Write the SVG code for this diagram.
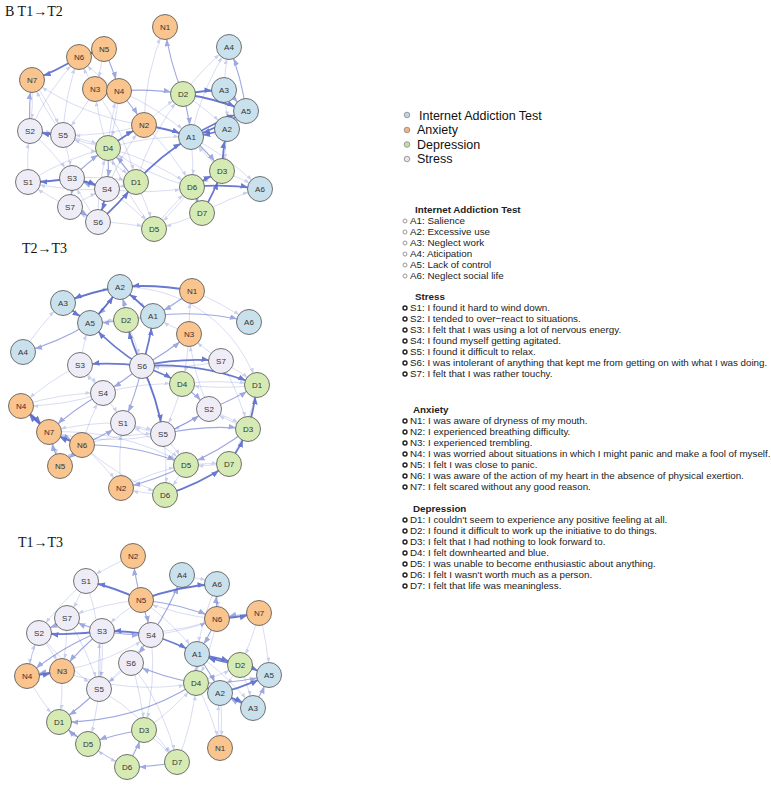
<svg xmlns="http://www.w3.org/2000/svg" width="771" height="800" viewBox="0 0 771 800">
<style>
.bg{fill:#fff}
.ttl{font-family:"Liberation Serif","Times New Roman",serif;font-size:14px;fill:#111}
.e{fill:none;stroke:#4f62c9;marker-end:url(#ah)}
.e1{stroke-width:1.8;opacity:.85}
.e2{stroke-width:1.1;opacity:.55}
.e3{stroke-width:.7;opacity:.3;marker-end:url(#ahs)}
.n circle{stroke:#505050;stroke-width:.8}
.nA circle{fill:#c9e1ec}
.nN circle{fill:#f9c48d}
.nD circle{fill:#d6ebb4}
.nS circle{fill:#eeecf6}
.n text{font-family:"Liberation Sans",Arial,sans-serif;font-size:8px;fill:#333;text-anchor:middle}
.lg{font-family:"Liberation Sans",Arial,sans-serif;font-size:12.5px;fill:#111}
.tx{font-family:"Liberation Sans",Arial,sans-serif;font-size:9.8px;fill:#222}
.hd{font-family:"Liberation Sans",Arial,sans-serif;font-size:9.8px;font-weight:bold;fill:#222}
.bl{fill:#fff;stroke:#999;stroke-width:1}
.bd{fill:#fff;stroke:#222;stroke-width:1.4}
.ld{stroke:#888;stroke-width:.8}
</style>
<defs>
<marker id="ah" markerUnits="userSpaceOnUse" markerWidth="7" markerHeight="5.6" refX="19.5" refY="2.8" orient="auto"><path d="M0,0 L7,2.8 L0,5.6 z" fill="#4f62c9"/></marker>
<marker id="ahs" markerUnits="userSpaceOnUse" markerWidth="5" markerHeight="4" refX="17.5" refY="2" orient="auto"><path d="M0,0 L5,2 L0,4 z" fill="#4f62c9"/></marker>
</defs>
<rect class="bg" x="0" y="0" width="771" height="800"/>
<text class="ttl" x="5" y="16">B T1→T2</text>
<text class="ttl" x="22" y="253">T2→T3</text>
<text class="ttl" x="18" y="547">T1→T3</text>

<g id="connectors">
<g id="edges-t1t2">
<path class="e e3" d="M144 125 A250 250 0 0 1 165 27"/>
<path class="e e3" d="M224 90 A250 250 0 0 1 229 47"/>
<path class="e e3" d="M191 137 A250 250 0 0 1 229 47"/>
<path class="e e3" d="M183 94 A250 250 0 0 1 229 47"/>
<path class="e e3" d="M63 135 A250 250 0 0 1 79 57"/>
<path class="e e3" d="M30 131 A250 250 0 0 1 63 135"/>
<path class="e e3" d="M63 135 A250 250 0 0 1 32 80"/>
<path class="e e3" d="M108 148 A250 250 0 0 1 95 89"/>
<path class="e e3" d="M28 182 A250 250 0 0 1 30 131"/>
<path class="e e3" d="M70 207 A250 250 0 0 1 28 182"/>
<path class="e e3" d="M98 222 A250 250 0 0 1 72 178"/>
<path class="e e3" d="M107 189 A250 250 0 0 1 28 182"/>
<path class="e e3" d="M108 148 A250 250 0 0 1 63 135"/>
<path class="e e3" d="M136 182 A250 250 0 0 1 107 189"/>
<path class="e e3" d="M136 182 A250 250 0 0 1 154 229"/>
<path class="e e3" d="M154 229 A250 250 0 0 1 192 187"/>
<path class="e e3" d="M108 148 A250 250 0 0 1 192 187"/>
<path class="e e3" d="M144 125 A250 250 0 0 1 192 187"/>
<path class="e e3" d="M191 137 A250 250 0 0 1 192 187"/>
<path class="e e3" d="M222 171 A250 250 0 0 1 191 137"/>
<path class="e e3" d="M227 129 A250 250 0 0 1 222 171"/>
<path class="e e3" d="M222 171 A250 250 0 0 1 260 189"/>
<path class="e e3" d="M191 137 A250 250 0 0 1 260 189"/>
<path class="e e3" d="M95 89 A250 250 0 0 1 63 135"/>
<path class="e e3" d="M30 131 A250 250 0 0 1 108 148"/>
<path class="e e3" d="M32 80 A250 250 0 0 1 30 131"/>
<path class="e e3" d="M108 148 A250 250 0 0 1 119 91"/>
<path class="e e3" d="M144 125 A250 250 0 0 1 183 94"/>
<path class="e e3" d="M136 182 A250 250 0 0 1 183 94"/>
<path class="e e3" d="M107 189 A250 250 0 0 1 154 229"/>
<path class="e e3" d="M98 222 A250 250 0 0 1 154 229"/>
<path class="e e3" d="M192 187 A250 250 0 0 1 154 229"/>
<path class="e e3" d="M202 213 A250 250 0 0 1 154 229"/>
<path class="e e3" d="M119 91 A250 250 0 0 1 79 57"/>
<path class="e e3" d="M95 89 A250 250 0 0 1 79 57"/>
<path class="e e3" d="M104 49 A250 250 0 0 1 95 89"/>
<path class="e e3" d="M227 129 A250 250 0 0 1 246 111"/>
<path class="e e3" d="M246 111 A250 250 0 0 1 227 129"/>
<path class="e e3" d="M224 90 A250 250 0 0 1 227 129"/>
<path class="e e3" d="M222 171 A250 250 0 0 1 192 187"/>
<path class="e e3" d="M192 187 A250 250 0 0 1 108 148"/>
<path class="e e3" d="M108 148 A250 250 0 0 1 191 137"/>
<path class="e e3" d="M107 189 A250 250 0 0 1 144 125"/>
<path class="e e3" d="M72 178 A250 250 0 0 1 136 182"/>
<path class="e e3" d="M30 131 A250 250 0 0 1 72 178"/>
<path class="e e3" d="M63 135 A250 250 0 0 1 72 178"/>
<path class="e e3" d="M183 94 A250 250 0 0 1 227 129"/>
<path class="e e3" d="M119 91 A250 250 0 0 1 191 137"/>
<path class="e e3" d="M70 207 A250 250 0 0 1 107 189"/>
<path class="e e3" d="M98 222 A250 250 0 0 1 70 207"/>
<path class="e e3" d="M98 222 A250 250 0 0 1 108 148"/>
<path class="e e3" d="M32 80 A250 250 0 0 1 63 135"/>
<path class="e e3" d="M144 125 A250 250 0 0 1 63 135"/>
<path class="e e3" d="M28 182 A250 250 0 0 1 108 148"/>
<path class="e e3" d="M154 229 A250 250 0 0 1 108 148"/>
<path class="e e3" d="M202 213 A250 250 0 0 1 260 189"/>
<path class="e e3" d="M30 131 A250 250 0 0 1 79 57"/>
<path class="e e3" d="M144 125 A250 250 0 0 1 32 80"/>
<path class="e e3" d="M95 89 A250 250 0 0 1 136 182"/>
<path class="e e3" d="M119 91 A250 250 0 0 1 108 148"/>
<path class="e e3" d="M107 189 A250 250 0 0 0 192 187"/>
<path class="e e3" d="M63 135 A250 250 0 0 1 136 182"/>
<path class="e e2" d="M119 91 A250 250 0 0 1 183 94"/>
<path class="e e2" d="M224 90 A250 250 0 0 1 246 111"/>
<path class="e e2" d="M72 178 A250 250 0 0 1 108 148"/>
<path class="e e2" d="M108 148 A250 250 0 0 1 107 189"/>
<path class="e e2" d="M136 182 A250 250 0 0 0 108 148"/>
<path class="e e2" d="M183 94 A250 250 0 0 1 165 27"/>
<path class="e e2" d="M246 111 A250 250 0 0 0 229 47"/>
<path class="e e2" d="M30 131 A250 250 0 0 1 32 80"/>
<path class="e e2" d="M70 207 A250 250 0 0 1 98 222"/>
<path class="e e2" d="M72 178 A250 250 0 0 1 70 207"/>
<path class="e e2" d="M192 187 A250 250 0 0 1 202 213"/>
<path class="e e2" d="M202 213 A250 250 0 0 1 192 187"/>
<path class="e e2" d="M104 49 A250 250 0 0 1 119 91"/>
<path class="e e2" d="M119 91 A250 250 0 0 1 144 125"/>
<path class="e e2" d="M183 94 A250 250 0 0 1 191 137"/>
<path class="e e2" d="M107 189 A250 250 0 0 1 72 178"/>
<path class="e e2" d="M191 137 A250 250 0 0 1 222 171"/>
<path class="e e1" d="M79 57 A250 250 0 0 1 32 80"/>
<path class="e e1" d="M104 49 A250 250 0 0 1 79 57"/>
<path class="e e1" d="M79 57 A250 250 0 0 1 104 49"/>
<path class="e e1" d="M119 91 A250 250 0 0 1 95 89"/>
<path class="e e1" d="M95 89 A250 250 0 0 1 119 91"/>
<path class="e e1" d="M144 125 A250 250 0 0 1 191 137"/>
<path class="e e1" d="M183 94 A250 250 0 0 1 224 90"/>
<path class="e e1" d="M183 94 A250 250 0 0 1 246 111"/>
<path class="e e1" d="M191 137 A250 250 0 0 1 246 111"/>
<path class="e e1" d="M246 111 A250 250 0 0 1 191 137"/>
<path class="e e1" d="M227 129 A250 250 0 0 1 191 137"/>
<path class="e e1" d="M222 171 A250 250 0 0 1 227 129"/>
<path class="e e1" d="M136 182 A250 250 0 0 1 191 137"/>
<path class="e e1" d="M72 178 A250 250 0 0 1 107 189"/>
<path class="e e1" d="M107 189 A250 250 0 0 1 98 222"/>
<path class="e e1" d="M98 222 A250 250 0 0 0 136 182"/>
<path class="e e1" d="M63 135 A250 250 0 0 1 30 131"/>
<path class="e e1" d="M72 178 A250 250 0 0 1 28 182"/>
<path class="e e1" d="M192 187 A250 250 0 0 1 222 171"/>
<path class="e e1" d="M202 213 A250 250 0 0 0 222 171"/>
<path class="e e1" d="M192 187 A250 250 0 0 1 260 189"/>
<path class="e e1" d="M108 148 A250 250 0 0 1 144 125"/>
</g>
<g id="edges-t2t3">
<path class="e e3" d="M120 287 A140 140 0 0 1 257 385"/>
<path class="e e3" d="M63 303 A250 250 0 0 1 120 287"/>
<path class="e e3" d="M153 316 A250 250 0 0 1 126 320"/>
<path class="e e3" d="M126 320 A250 250 0 0 1 153 316"/>
<path class="e e3" d="M90 323 A250 250 0 0 1 126 320"/>
<path class="e e3" d="M192 291 A250 250 0 0 1 249 322"/>
<path class="e e3" d="M189 334 A250 250 0 0 1 153 316"/>
<path class="e e3" d="M80 365 A250 250 0 0 1 103 393"/>
<path class="e e3" d="M103 393 A250 250 0 0 1 80 365"/>
<path class="e e3" d="M80 365 A250 250 0 0 1 90 323"/>
<path class="e e3" d="M103 393 A250 250 0 0 1 123 423"/>
<path class="e e3" d="M123 423 A250 250 0 0 1 163 434"/>
<path class="e e3" d="M163 434 A250 250 0 0 1 123 423"/>
<path class="e e3" d="M123 423 A250 250 0 0 0 49 432"/>
<path class="e e3" d="M82 445 A250 250 0 0 1 103 393"/>
<path class="e e3" d="M82 445 A250 250 0 0 1 121 488"/>
<path class="e e3" d="M82 445 A250 250 0 0 0 165 495"/>
<path class="e e3" d="M49 432 A250 250 0 0 1 60 466"/>
<path class="e e3" d="M21 406 A250 250 0 0 1 103 393"/>
<path class="e e3" d="M103 393 A250 250 0 0 1 21 406"/>
<path class="e e3" d="M60 466 A250 250 0 0 1 82 445"/>
<path class="e e3" d="M163 434 A250 250 0 0 1 186 465"/>
<path class="e e3" d="M186 465 A250 250 0 0 1 229 464"/>
<path class="e e3" d="M229 464 A250 250 0 0 1 186 465"/>
<path class="e e3" d="M186 465 A250 250 0 0 1 165 495"/>
<path class="e e3" d="M165 495 A250 250 0 0 1 121 488"/>
<path class="e e3" d="M121 488 A250 250 0 0 1 123 423"/>
<path class="e e3" d="M209 409 A250 250 0 0 1 163 434"/>
<path class="e e3" d="M182 384 A250 250 0 0 1 163 434"/>
<path class="e e3" d="M221 361 A250 250 0 0 1 257 385"/>
<path class="e e3" d="M221 361 A250 250 0 0 1 189 334"/>
<path class="e e3" d="M209 409 A250 250 0 0 1 248 429"/>
<path class="e e3" d="M182 384 A250 250 0 0 1 257 385"/>
<path class="e e3" d="M257 385 A250 250 0 0 1 182 384"/>
<path class="e e3" d="M248 429 A250 250 0 0 1 209 409"/>
<path class="e e3" d="M229 464 A250 250 0 0 0 257 385"/>
<path class="e e3" d="M189 334 A250 250 0 0 1 182 384"/>
<path class="e e3" d="M209 409 A250 250 0 0 1 189 334"/>
<path class="e e3" d="M121 488 A250 250 0 0 1 186 465"/>
<path class="e e3" d="M163 434 A250 250 0 0 1 49 432"/>
<path class="e e3" d="M142 366 A250 250 0 0 1 165 495"/>
<path class="e e3" d="M103 393 A250 250 0 0 1 182 384"/>
<path class="e e3" d="M23 352 A250 250 0 0 1 63 303"/>
<path class="e e3" d="M126 320 A250 250 0 0 1 142 366"/>
<path class="e e3" d="M123 423 A250 250 0 0 1 186 465"/>
<path class="e e3" d="M49 432 A250 250 0 0 1 186 465"/>
<path class="e e3" d="M82 445 A250 250 0 0 1 163 434"/>
<path class="e e3" d="M221 361 A250 250 0 0 1 248 429"/>
<path class="e e3" d="M80 365 A250 250 0 0 0 21 406"/>
<path class="e e3" d="M120 287 A250 250 0 0 1 153 316"/>
<path class="e e3" d="M221 361 A250 250 0 0 1 142 366"/>
<path class="e e3" d="M189 334 A250 250 0 0 1 192 291"/>
<path class="e e2" d="M153 316 A250 250 0 0 1 249 322"/>
<path class="e e2" d="M90 323 A250 250 0 0 1 23 352"/>
<path class="e e2" d="M49 432 A250 250 0 0 1 82 445"/>
<path class="e e2" d="M60 466 A250 250 0 0 1 49 432"/>
<path class="e e2" d="M82 445 A250 250 0 0 1 186 465"/>
<path class="e e2" d="M163 434 A250 250 0 0 1 248 429"/>
<path class="e e2" d="M186 465 A250 250 0 0 1 121 488"/>
<path class="e e2" d="M103 393 A250 250 0 0 0 49 432"/>
<path class="e e2" d="M209 409 A250 250 0 0 0 257 385"/>
<path class="e e2" d="M182 384 A250 250 0 0 1 209 409"/>
<path class="e e2" d="M192 291 A250 250 0 0 1 153 316"/>
<path class="e e2" d="M126 320 A250 250 0 0 0 120 287"/>
<path class="e e2" d="M142 366 A250 250 0 0 0 189 334"/>
<path class="e e2" d="M142 366 A250 250 0 0 1 123 423"/>
<path class="e e2" d="M142 366 A250 250 0 0 1 103 393"/>
<path class="e e2" d="M248 429 A250 250 0 0 1 186 465"/>
<path class="e e2" d="M82 445 A250 250 0 0 1 60 466"/>
<path class="e e2" d="M82 445 A250 250 0 0 0 123 423"/>
<path class="e e2" d="M163 434 A250 250 0 0 0 209 409"/>
<path class="e e2" d="M120 287 A250 250 0 0 1 90 323"/>
<path class="e e2" d="M126 320 A250 250 0 0 1 90 323"/>
<path class="e e1" d="M142 366 A250 250 0 0 0 80 365"/>
<path class="e e1" d="M142 366 A250 250 0 0 1 90 323"/>
<path class="e e1" d="M142 366 A250 250 0 0 1 126 320"/>
<path class="e e1" d="M142 366 A250 250 0 0 0 153 316"/>
<path class="e e1" d="M142 366 A250 250 0 0 1 221 361"/>
<path class="e e1" d="M142 366 A250 250 0 0 1 257 385"/>
<path class="e e1" d="M142 366 A250 250 0 0 1 163 434"/>
<path class="e e1" d="M142 366 A250 250 0 0 1 182 384"/>
<path class="e e1" d="M192 291 A250 250 0 0 0 120 287"/>
<path class="e e1" d="M153 316 A250 250 0 0 0 120 287"/>
<path class="e e1" d="M90 323 A250 250 0 0 0 120 287"/>
<path class="e e1" d="M120 287 A250 250 0 0 0 63 303"/>
<path class="e e1" d="M63 303 A250 250 0 0 0 90 323"/>
<path class="e e1" d="M21 406 A250 250 0 0 1 49 432"/>
<path class="e e1" d="M49 432 A250 250 0 0 1 21 406"/>
<path class="e e1" d="M82 445 A250 250 0 0 1 49 432"/>
<path class="e e1" d="M248 429 A250 250 0 0 0 257 385"/>
<path class="e e1" d="M229 464 A250 250 0 0 0 248 429"/>
<path class="e e1" d="M165 495 A250 250 0 0 0 229 464"/>
</g>
<g id="edges-t1t3">
<path class="e e3" d="M196 683 A250 250 0 0 1 220 748"/>
<path class="e e3" d="M220 693 A250 250 0 0 1 220 748"/>
<path class="e e3" d="M86 581 A250 250 0 0 1 67 618"/>
<path class="e e3" d="M86 581 A250 250 0 0 0 39 633"/>
<path class="e e3" d="M67 618 A250 250 0 0 1 62 671"/>
<path class="e e3" d="M39 633 A250 250 0 0 1 62 671"/>
<path class="e e3" d="M102 631 A250 250 0 0 1 99 689"/>
<path class="e e3" d="M99 689 A250 250 0 0 1 102 631"/>
<path class="e e3" d="M151 635 A250 250 0 0 1 99 689"/>
<path class="e e3" d="M141 600 A250 250 0 0 0 67 618"/>
<path class="e e3" d="M141 600 A250 250 0 0 0 102 631"/>
<path class="e e3" d="M182 575 A250 250 0 0 1 217 584"/>
<path class="e e3" d="M217 584 A250 250 0 0 1 217 619"/>
<path class="e e3" d="M217 619 A250 250 0 0 1 196 683"/>
<path class="e e3" d="M197 654 A250 250 0 0 1 196 683"/>
<path class="e e3" d="M196 683 A250 250 0 0 1 197 654"/>
<path class="e e3" d="M240 665 A250 250 0 0 1 220 693"/>
<path class="e e3" d="M240 665 A250 250 0 0 1 253 708"/>
<path class="e e3" d="M259 613 A250 250 0 0 1 269 675"/>
<path class="e e3" d="M259 613 A250 250 0 0 1 240 665"/>
<path class="e e3" d="M197 654 A250 250 0 0 1 253 708"/>
<path class="e e3" d="M131 663 A250 250 0 0 1 99 689"/>
<path class="e e3" d="M62 671 A250 250 0 0 1 59 722"/>
<path class="e e3" d="M39 633 A250 250 0 0 0 99 689"/>
<path class="e e3" d="M27 676 A250 250 0 0 0 59 722"/>
<path class="e e3" d="M99 689 A250 250 0 0 1 88 744"/>
<path class="e e3" d="M59 722 A250 250 0 0 0 88 744"/>
<path class="e e3" d="M88 744 A250 250 0 0 0 127 767"/>
<path class="e e3" d="M127 767 A250 250 0 0 1 88 744"/>
<path class="e e3" d="M144 730 A250 250 0 0 1 177 762"/>
<path class="e e3" d="M177 762 A250 250 0 0 0 196 683"/>
<path class="e e3" d="M144 730 A250 250 0 0 0 196 683"/>
<path class="e e3" d="M131 663 A250 250 0 0 1 144 730"/>
<path class="e e3" d="M151 635 A250 250 0 0 1 144 730"/>
<path class="e e3" d="M151 635 A250 250 0 0 0 217 619"/>
<path class="e e3" d="M102 631 A250 250 0 0 0 217 619"/>
<path class="e e3" d="M133 556 A250 250 0 0 0 86 581"/>
<path class="e e3" d="M27 676 A250 250 0 0 1 39 633"/>
<path class="e e3" d="M39 633 A250 250 0 0 0 27 676"/>
<path class="e e3" d="M220 748 A250 250 0 0 1 220 693"/>
<path class="e e3" d="M196 683 A250 250 0 0 0 240 665"/>
<path class="e e3" d="M131 663 A250 250 0 0 1 177 762"/>
<path class="e e3" d="M99 689 A250 250 0 0 1 177 762"/>
<path class="e e3" d="M217 584 A250 250 0 0 0 197 654"/>
<path class="e e3" d="M141 600 A250 250 0 0 1 197 654"/>
<path class="e e3" d="M217 619 A250 250 0 0 1 141 600"/>
<path class="e e3" d="M67 618 A250 250 0 0 1 99 689"/>
<path class="e e3" d="M62 671 A250 250 0 0 0 151 635"/>
<path class="e e3" d="M86 581 A250 250 0 0 1 99 689"/>
<path class="e e3" d="M62 671 A250 250 0 0 0 196 683"/>
<path class="e e2" d="M141 600 A250 250 0 0 1 133 556"/>
<path class="e e2" d="M141 600 A250 250 0 0 1 151 635"/>
<path class="e e2" d="M151 635 A250 250 0 0 0 182 575"/>
<path class="e e2" d="M102 631 A250 250 0 0 0 151 635"/>
<path class="e e2" d="M151 635 A250 250 0 0 1 131 663"/>
<path class="e e2" d="M102 631 A250 250 0 0 1 67 618"/>
<path class="e e2" d="M67 618 A250 250 0 0 1 39 633"/>
<path class="e e2" d="M259 613 A250 250 0 0 0 217 619"/>
<path class="e e2" d="M217 619 A250 250 0 0 1 217 584"/>
<path class="e e2" d="M197 654 A250 250 0 0 1 220 693"/>
<path class="e e2" d="M253 708 A250 250 0 0 0 269 675"/>
<path class="e e2" d="M196 683 A250 250 0 0 0 269 675"/>
<path class="e e2" d="M62 671 A250 250 0 0 0 27 676"/>
<path class="e e2" d="M102 631 A250 250 0 0 0 27 676"/>
<path class="e e2" d="M102 631 A250 250 0 0 0 62 671"/>
<path class="e e2" d="M99 689 A250 250 0 0 1 59 722"/>
<path class="e e2" d="M196 683 A250 250 0 0 1 59 722"/>
<path class="e e2" d="M144 730 A250 250 0 0 0 88 744"/>
<path class="e e2" d="M127 767 A250 250 0 0 0 144 730"/>
<path class="e e2" d="M177 762 A250 250 0 0 1 127 767"/>
<path class="e e2" d="M88 744 A250 250 0 0 1 59 722"/>
<path class="e e2" d="M196 683 A250 250 0 0 1 131 663"/>
<path class="e e2" d="M141 600 A250 250 0 0 1 217 619"/>
<path class="e e2" d="M253 708 A250 250 0 0 1 220 693"/>
<path class="e e2" d="M217 619 A250 250 0 0 1 197 654"/>
<path class="e e1" d="M141 600 A250 250 0 0 0 86 581"/>
<path class="e e1" d="M141 600 A250 250 0 0 1 217 584"/>
<path class="e e1" d="M151 635 A250 250 0 0 1 197 654"/>
<path class="e e1" d="M151 635 A250 250 0 0 0 102 631"/>
<path class="e e1" d="M102 631 A250 250 0 0 1 39 633"/>
<path class="e e1" d="M217 619 A250 250 0 0 0 259 613"/>
<path class="e e1" d="M197 654 A250 250 0 0 1 240 665"/>
<path class="e e1" d="M240 665 A250 250 0 0 1 197 654"/>
<path class="e e1" d="M240 665 A250 250 0 0 1 269 675"/>
<path class="e e1" d="M220 693 A250 250 0 0 0 269 675"/>
<path class="e e1" d="M220 693 A250 250 0 0 1 253 708"/>
<path class="e e1" d="M220 693 A250 250 0 0 1 196 683"/>
<path class="e e1" d="M27 676 A250 250 0 0 0 62 671"/>
</g>
</g>

<g id="nodes-t1t2">
<g id="t12-N1" class="n nN"><circle cx="165" cy="27" r="12.5"/><text x="165" y="29.8">N1</text></g>
<g id="t12-N6" class="n nN"><circle cx="79" cy="57" r="12.5"/><text x="79" y="59.8">N6</text></g>
<g id="t12-N5" class="n nN"><circle cx="104" cy="49" r="12.5"/><text x="104" y="51.8">N5</text></g>
<g id="t12-N7" class="n nN"><circle cx="32" cy="80" r="12.5"/><text x="32" y="82.8">N7</text></g>
<g id="t12-N3" class="n nN"><circle cx="95" cy="89" r="12.5"/><text x="95" y="91.8">N3</text></g>
<g id="t12-N4" class="n nN"><circle cx="119" cy="91" r="12.5"/><text x="119" y="93.8">N4</text></g>
<g id="t12-A4" class="n nA"><circle cx="229" cy="47" r="12.5"/><text x="229" y="49.8">A4</text></g>
<g id="t12-D2" class="n nD"><circle cx="183" cy="94" r="12.5"/><text x="183" y="96.8">D2</text></g>
<g id="t12-A3" class="n nA"><circle cx="224" cy="90" r="12.5"/><text x="224" y="92.8">A3</text></g>
<g id="t12-A5" class="n nA"><circle cx="246" cy="111" r="12.5"/><text x="246" y="113.8">A5</text></g>
<g id="t12-A2" class="n nA"><circle cx="227" cy="129" r="12.5"/><text x="227" y="131.8">A2</text></g>
<g id="t12-A1" class="n nA"><circle cx="191" cy="137" r="12.5"/><text x="191" y="139.8">A1</text></g>
<g id="t12-N2" class="n nN"><circle cx="144" cy="125" r="12.5"/><text x="144" y="127.8">N2</text></g>
<g id="t12-S2" class="n nS"><circle cx="30" cy="131" r="12.5"/><text x="30" y="133.8">S2</text></g>
<g id="t12-S5" class="n nS"><circle cx="63" cy="135" r="12.5"/><text x="63" y="137.8">S5</text></g>
<g id="t12-D4" class="n nD"><circle cx="108" cy="148" r="12.5"/><text x="108" y="150.8">D4</text></g>
<g id="t12-S1" class="n nS"><circle cx="28" cy="182" r="12.5"/><text x="28" y="184.8">S1</text></g>
<g id="t12-S3" class="n nS"><circle cx="72" cy="178" r="12.5"/><text x="72" y="180.8">S3</text></g>
<g id="t12-S4" class="n nS"><circle cx="107" cy="189" r="12.5"/><text x="107" y="191.8">S4</text></g>
<g id="t12-D1" class="n nD"><circle cx="136" cy="182" r="12.5"/><text x="136" y="184.8">D1</text></g>
<g id="t12-D6" class="n nD"><circle cx="192" cy="187" r="12.5"/><text x="192" y="189.8">D6</text></g>
<g id="t12-D3" class="n nD"><circle cx="222" cy="171" r="12.5"/><text x="222" y="173.8">D3</text></g>
<g id="t12-A6" class="n nA"><circle cx="260" cy="189" r="12.5"/><text x="260" y="191.8">A6</text></g>
<g id="t12-S7" class="n nS"><circle cx="70" cy="207" r="12.5"/><text x="70" y="209.8">S7</text></g>
<g id="t12-S6" class="n nS"><circle cx="98" cy="222" r="12.5"/><text x="98" y="224.8">S6</text></g>
<g id="t12-D7" class="n nD"><circle cx="202" cy="213" r="12.5"/><text x="202" y="215.8">D7</text></g>
<g id="t12-D5" class="n nD"><circle cx="154" cy="229" r="12.5"/><text x="154" y="231.8">D5</text></g>
</g>

<g id="nodes-t2t3">
<g id="t23-A2" class="n nA"><circle cx="120" cy="287" r="12.5"/><text x="120" y="289.8">A2</text></g>
<g id="t23-N1" class="n nN"><circle cx="192" cy="291" r="12.5"/><text x="192" y="293.8">N1</text></g>
<g id="t23-A3" class="n nA"><circle cx="63" cy="303" r="12.5"/><text x="63" y="305.8">A3</text></g>
<g id="t23-A5" class="n nA"><circle cx="90" cy="323" r="12.5"/><text x="90" y="325.8">A5</text></g>
<g id="t23-D2" class="n nD"><circle cx="126" cy="320" r="12.5"/><text x="126" y="322.8">D2</text></g>
<g id="t23-A1" class="n nA"><circle cx="153" cy="316" r="12.5"/><text x="153" y="318.8">A1</text></g>
<g id="t23-A6" class="n nA"><circle cx="249" cy="322" r="12.5"/><text x="249" y="324.8">A6</text></g>
<g id="t23-N3" class="n nN"><circle cx="189" cy="334" r="12.5"/><text x="189" y="336.8">N3</text></g>
<g id="t23-A4" class="n nA"><circle cx="23" cy="352" r="12.5"/><text x="23" y="354.8">A4</text></g>
<g id="t23-S3" class="n nS"><circle cx="80" cy="365" r="12.5"/><text x="80" y="367.8">S3</text></g>
<g id="t23-S6" class="n nS"><circle cx="142" cy="366" r="12.5"/><text x="142" y="368.8">S6</text></g>
<g id="t23-S7" class="n nS"><circle cx="221" cy="361" r="12.5"/><text x="221" y="363.8">S7</text></g>
<g id="t23-D4" class="n nD"><circle cx="182" cy="384" r="12.5"/><text x="182" y="386.8">D4</text></g>
<g id="t23-D1" class="n nD"><circle cx="257" cy="385" r="12.5"/><text x="257" y="387.8">D1</text></g>
<g id="t23-S4" class="n nS"><circle cx="103" cy="393" r="12.5"/><text x="103" y="395.8">S4</text></g>
<g id="t23-N4" class="n nN"><circle cx="21" cy="406" r="12.5"/><text x="21" y="408.8">N4</text></g>
<g id="t23-S2" class="n nS"><circle cx="209" cy="409" r="12.5"/><text x="209" y="411.8">S2</text></g>
<g id="t23-S1" class="n nS"><circle cx="123" cy="423" r="12.5"/><text x="123" y="425.8">S1</text></g>
<g id="t23-N7" class="n nN"><circle cx="49" cy="432" r="12.5"/><text x="49" y="434.8">N7</text></g>
<g id="t23-D3" class="n nD"><circle cx="248" cy="429" r="12.5"/><text x="248" y="431.8">D3</text></g>
<g id="t23-S5" class="n nS"><circle cx="163" cy="434" r="12.5"/><text x="163" y="436.8">S5</text></g>
<g id="t23-N6" class="n nN"><circle cx="82" cy="445" r="12.5"/><text x="82" y="447.8">N6</text></g>
<g id="t23-N5" class="n nN"><circle cx="60" cy="466" r="12.5"/><text x="60" y="468.8">N5</text></g>
<g id="t23-D5" class="n nD"><circle cx="186" cy="465" r="12.5"/><text x="186" y="467.8">D5</text></g>
<g id="t23-D7" class="n nD"><circle cx="229" cy="464" r="12.5"/><text x="229" y="466.8">D7</text></g>
<g id="t23-N2" class="n nN"><circle cx="121" cy="488" r="12.5"/><text x="121" y="490.8">N2</text></g>
<g id="t23-D6" class="n nD"><circle cx="165" cy="495" r="12.5"/><text x="165" y="497.8">D6</text></g>
</g>

<g id="nodes-t1t3">
<g id="t13-N2" class="n nN"><circle cx="133" cy="556" r="12.5"/><text x="133" y="558.8">N2</text></g>
<g id="t13-S1" class="n nS"><circle cx="86" cy="581" r="12.5"/><text x="86" y="583.8">S1</text></g>
<g id="t13-A4" class="n nA"><circle cx="182" cy="575" r="12.5"/><text x="182" y="577.8">A4</text></g>
<g id="t13-A6" class="n nA"><circle cx="217" cy="584" r="12.5"/><text x="217" y="586.8">A6</text></g>
<g id="t13-N5" class="n nN"><circle cx="141" cy="600" r="12.5"/><text x="141" y="602.8">N5</text></g>
<g id="t13-N6" class="n nN"><circle cx="217" cy="619" r="12.5"/><text x="217" y="621.8">N6</text></g>
<g id="t13-N7" class="n nN"><circle cx="259" cy="613" r="12.5"/><text x="259" y="615.8">N7</text></g>
<g id="t13-S7" class="n nS"><circle cx="67" cy="618" r="12.5"/><text x="67" y="620.8">S7</text></g>
<g id="t13-S2" class="n nS"><circle cx="39" cy="633" r="12.5"/><text x="39" y="635.8">S2</text></g>
<g id="t13-S3" class="n nS"><circle cx="102" cy="631" r="12.5"/><text x="102" y="633.8">S3</text></g>
<g id="t13-S4" class="n nS"><circle cx="151" cy="635" r="12.5"/><text x="151" y="637.8">S4</text></g>
<g id="t13-A1" class="n nA"><circle cx="197" cy="654" r="12.5"/><text x="197" y="656.8">A1</text></g>
<g id="t13-S6" class="n nS"><circle cx="131" cy="663" r="12.5"/><text x="131" y="665.8">S6</text></g>
<g id="t13-N4" class="n nN"><circle cx="27" cy="676" r="12.5"/><text x="27" y="678.8">N4</text></g>
<g id="t13-N3" class="n nN"><circle cx="62" cy="671" r="12.5"/><text x="62" y="673.8">N3</text></g>
<g id="t13-D4" class="n nD"><circle cx="196" cy="683" r="12.5"/><text x="196" y="685.8">D4</text></g>
<g id="t13-A2" class="n nA"><circle cx="220" cy="693" r="12.5"/><text x="220" y="695.8">A2</text></g>
<g id="t13-D2" class="n nD"><circle cx="240" cy="665" r="12.5"/><text x="240" y="667.8">D2</text></g>
<g id="t13-A5" class="n nA"><circle cx="269" cy="675" r="12.5"/><text x="269" y="677.8">A5</text></g>
<g id="t13-A3" class="n nA"><circle cx="253" cy="708" r="12.5"/><text x="253" y="710.8">A3</text></g>
<g id="t13-S5" class="n nS"><circle cx="99" cy="689" r="12.5"/><text x="99" y="691.8">S5</text></g>
<g id="t13-D1" class="n nD"><circle cx="59" cy="722" r="12.5"/><text x="59" y="724.8">D1</text></g>
<g id="t13-D3" class="n nD"><circle cx="144" cy="730" r="12.5"/><text x="144" y="732.8">D3</text></g>
<g id="t13-D5" class="n nD"><circle cx="88" cy="744" r="12.5"/><text x="88" y="746.8">D5</text></g>
<g id="t13-N1" class="n nN"><circle cx="220" cy="748" r="12.5"/><text x="220" y="750.8">N1</text></g>
<g id="t13-D7" class="n nD"><circle cx="177" cy="762" r="12.5"/><text x="177" y="764.8">D7</text></g>
<g id="t13-D6" class="n nD"><circle cx="127" cy="767" r="12.5"/><text x="127" y="769.8">D6</text></g>
</g>

<g id="legend">
<circle class="ld" cx="407" cy="115" r="2.8" fill="#bcd6e2"/>
<text class="lg" x="419" y="119.5">Internet Addiction Test</text>
<circle class="ld" cx="407" cy="130" r="2.8" fill="#f0b47c"/>
<text class="lg" x="417" y="134">Anxiety</text>
<circle class="ld" cx="407" cy="144.5" r="2.8" fill="#c6dda3"/>
<text class="lg" x="417" y="148.5">Depression</text>
<circle class="ld" cx="407" cy="159" r="2.8" fill="#e6e4f0"/>
<text class="lg" x="417" y="163">Stress</text>
</g>

<g id="items">
<text class="hd" x="415" y="213">Internet Addiction Test</text>
<circle class="bl" cx="405" cy="221" r="2"/><text class="tx" x="410" y="224">A1: Salience</text>
<circle class="bl" cx="405" cy="232" r="2"/><text class="tx" x="410" y="235">A2: Excessive use</text>
<circle class="bl" cx="405" cy="243" r="2"/><text class="tx" x="410" y="246">A3: Neglect work</text>
<circle class="bl" cx="405" cy="254" r="2"/><text class="tx" x="410" y="257">A4: Aticipation</text>
<circle class="bl" cx="405" cy="265" r="2"/><text class="tx" x="410" y="268">A5: Lack of control</text>
<circle class="bl" cx="405" cy="276" r="2"/><text class="tx" x="410" y="279">A6: Neglect social life</text>

<text class="hd" x="415" y="300">Stress</text>
<circle class="bd" cx="405" cy="308" r="2"/><text class="tx" x="410" y="311">S1: I found it hard to wind down.</text>
<circle class="bd" cx="405" cy="319" r="2"/><text class="tx" x="410" y="322">S2: I tended to over−react to situations.</text>
<circle class="bd" cx="405" cy="330" r="2"/><text class="tx" x="410" y="333">S3: I felt that I was using a lot of nervous energy.</text>
<circle class="bd" cx="405" cy="341" r="2"/><text class="tx" x="410" y="344">S4: I found myself getting agitated.</text>
<circle class="bd" cx="405" cy="352" r="2"/><text class="tx" x="410" y="355">S5: I found it difficult to relax.</text>
<circle class="bd" cx="405" cy="363" r="2"/><text class="tx" x="410" y="366">S6: I was intolerant of anything that kept me from getting on with what I was doing.</text>
<circle class="bd" cx="405" cy="374" r="2"/><text class="tx" x="410" y="377">S7: I felt that I was rather touchy.</text>

<text class="hd" x="413" y="413">Anxiety</text>
<circle class="bd" cx="405" cy="421" r="2"/><text class="tx" x="410" y="424">N1: I was aware of dryness of my mouth.</text>
<circle class="bd" cx="405" cy="432" r="2"/><text class="tx" x="410" y="435">N2: I experienced breathing difficulty.</text>
<circle class="bd" cx="405" cy="443" r="2"/><text class="tx" x="410" y="446">N3: I experienced trembling.</text>
<circle class="bd" cx="405" cy="454" r="2"/><text class="tx" x="410" y="457">N4: I was worried about situations in which I might panic and make a fool of myself.</text>
<circle class="bd" cx="405" cy="465" r="2"/><text class="tx" x="410" y="468">N5: I felt I was close to panic.</text>
<circle class="bd" cx="405" cy="476" r="2"/><text class="tx" x="410" y="479">N6: I was aware of the action of my heart in the absence of physical exertion.</text>
<circle class="bd" cx="405" cy="487" r="2"/><text class="tx" x="410" y="490">N7: I felt scared without any good reason.</text>

<text class="hd" x="413" y="512">Depression</text>
<circle class="bd" cx="405" cy="520" r="2"/><text class="tx" x="410" y="523">D1: I couldn't seem to experience any positive feeling at all.</text>
<circle class="bd" cx="405" cy="531" r="2"/><text class="tx" x="410" y="534">D2: I found it difficult to work up the initiative to do things.</text>
<circle class="bd" cx="405" cy="542" r="2"/><text class="tx" x="410" y="545">D3: I felt that I had nothing to look forward to.</text>
<circle class="bd" cx="405" cy="553" r="2"/><text class="tx" x="410" y="556">D4: I felt downhearted and blue.</text>
<circle class="bd" cx="405" cy="564" r="2"/><text class="tx" x="410" y="567">D5: I was unable to become enthusiastic about anything.</text>
<circle class="bd" cx="405" cy="575" r="2"/><text class="tx" x="410" y="578">D6: I felt I wasn't worth much as a person.</text>
<circle class="bd" cx="405" cy="586" r="2"/><text class="tx" x="410" y="589">D7: I felt that life was meaningless.</text>
</g>
</svg>
